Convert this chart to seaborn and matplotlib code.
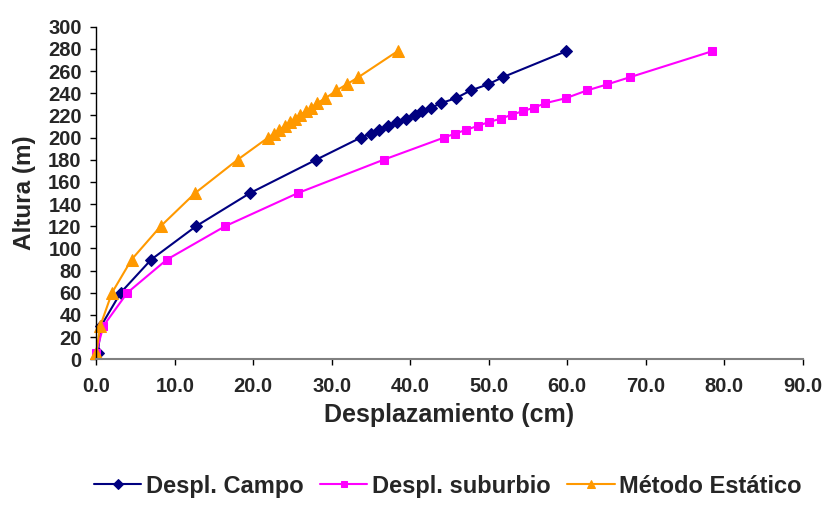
import numpy as np
import pandas as pd
import matplotlib
matplotlib.use('Agg')
import matplotlib.pyplot as plt
import seaborn as sns

# heights (m) shared by the three series
alturas = [6, 30, 60, 90, 120, 150, 180, 200, 203.5, 207, 210.5, 214, 217,
           220.5, 224, 227, 231, 235.5, 242.5, 248, 254.5, 278]

despl_campo = [0.2, 0.6, 3.1, 7.0, 12.7, 19.6, 28.0, 33.7, 35.0, 36.0, 37.2,
               38.3, 39.4, 40.6, 41.5, 42.7, 43.9, 45.8, 47.7, 49.9, 51.8, 59.9]
despl_suburbio = [0.0, 0.9, 3.95, 9.0, 16.4, 25.7, 36.6, 44.3, 45.7, 47.1, 48.6,
                  50.0, 51.5, 52.9, 54.4, 55.8, 57.2, 59.8, 62.5, 65.1, 68.0, 78.5]
metodo_estatico = [0.0, 0.5, 2.0, 4.5, 8.2, 12.6, 18.0, 21.9, 22.6, 23.3, 24.0,
                   24.7, 25.3, 26.0, 26.7, 27.4, 28.1, 29.2, 30.6, 31.9, 33.4, 38.4]

series = ['Despl. Campo', 'Despl. suburbio', 'Método Estático']
colores = ['#000080', '#FF00FF', '#FF9900']
marcadores = ['D', 's', '^']
tamanos = [6, 6, 8]

sns.set_style('white')
plt.rcParams['font.family'] = ['Liberation Sans', 'DejaVu Sans']
plt.rcParams['font.weight'] = 'bold'

fig = plt.figure(figsize=(8.25, 5.08), dpi=100)
ax = fig.add_axes([0.1167, 0.2927, 0.8563, 0.6547])

valores = [despl_campo, despl_suburbio, metodo_estatico]
for nombre, xs, c, m, ms in zip(series, valores, colores, marcadores, tamanos):
    df = pd.DataFrame({'x': xs, 'y': alturas})
    sns.lineplot(data=df, x='x', y='y', sort=False, estimator=None, ax=ax,
                 color=c, marker=m, markersize=ms, markeredgecolor=c,
                 linewidth=1.5, label=nombre, clip_on=False)

ax.set_xlim(0, 90)
ax.set_ylim(0, 300)
ax.set_xticks(np.arange(0, 91, 10))
ax.set_xticklabels([f'{v:.1f}' for v in np.arange(0, 91, 10)])
ax.set_yticks(np.arange(0, 301, 20))

for s in ['top', 'right']:
    ax.spines[s].set_visible(False)
ax.spines['left'].set_color('black')
ax.spines['bottom'].set_color('#808080')
ax.spines['left'].set_linewidth(1.0)
ax.spines['bottom'].set_linewidth(1.5)

ax.tick_params(axis='both', direction='out', length=4.5, width=1, color='black',
               labelsize=14.5, left=True, bottom=True)
ax.tick_params(axis='y', pad=6)
ax.tick_params(axis='x', pad=8)
for lab in ax.get_xticklabels() + ax.get_yticklabels():
    lab.set_fontweight('bold')

ax.set_xlabel('Desplazamiento (cm)', fontsize=18, fontweight='bold', labelpad=5)
ax.set_ylabel('Altura (m)', fontsize=17.5, fontweight='bold', labelpad=9)

handles, labels = ax.get_legend_handles_labels()
ax.get_legend().remove()
fig.legend(handles, labels, loc='center', bbox_to_anchor=(0.543, 0.043), ncol=3,
           frameon=False, prop={'size': 17, 'weight': 'bold'},
           handlelength=2.0, handletextpad=0.2, columnspacing=0.7,
           markerscale=0.8)

fig.savefig('out.png', dpi=100)
